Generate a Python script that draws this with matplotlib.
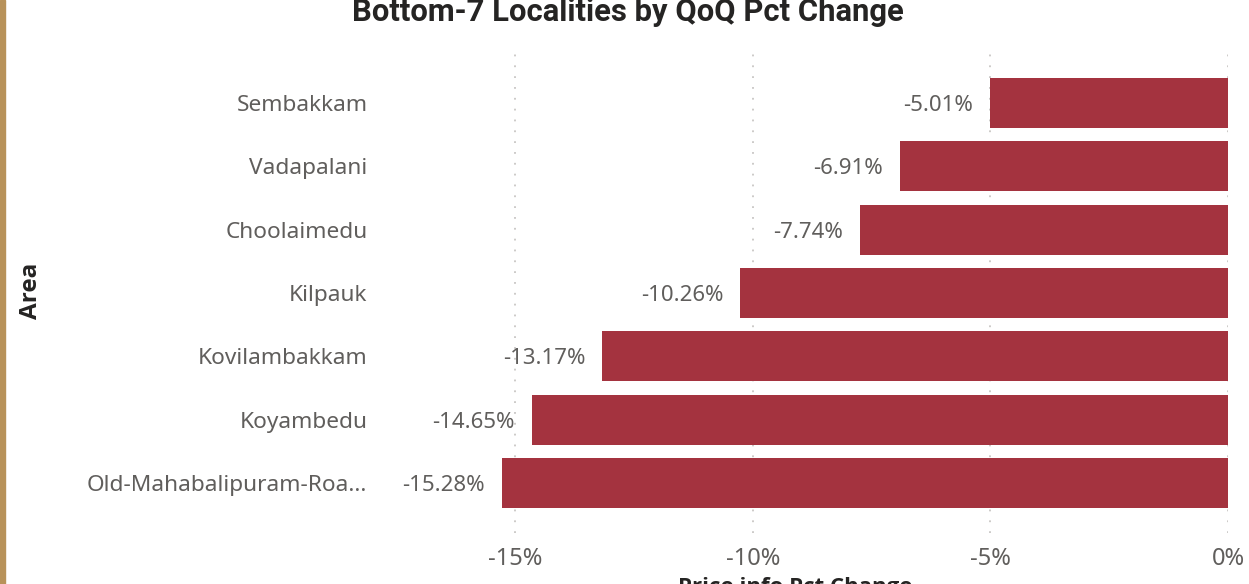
import matplotlib.pyplot as plt
from matplotlib.ticker import FuncFormatter
from matplotlib.patches import Rectangle

# data (QoQ pct change, bottom 7)
areas = ["Sembakkam", "Vadapalani", "Choolaimedu", "Kilpauk",
         "Kovilambakkam", "Koyambedu", "Old-Mahabalipuram-Roa..."]
pct_change = [-5.01, -6.91, -7.74, -10.26, -13.17, -14.65, -15.28]
x_ticks = [-15, -10, -5, 0]

bar_color = "#a4333f"
grey = "#605e5c"
W, H = 1249, 584

plt.rcParams['font.family'] = ['Noto Sans', 'DejaVu Sans']

fig = plt.figure(figsize=(W / 100, H / 100), dpi=100)
# axes box in pixels: x 380..1228, y 53..533
ax = fig.add_axes([380 / W, (H - 533) / H, (1228 - 380) / W, 480 / H])

ypos = list(range(len(areas)))
ax.barh(ypos, pct_change, height=0.79, color=bar_color, zorder=2)

px_per_pct = 47.53
ax.set_xlim(-(1228 - 380) / px_per_pct, 0)
ax.set_ylim(len(areas) - 1 + 0.79, -0.79)

for y, v in zip(ypos, pct_change):
    ax.annotate(f"{v:.2f}%", xy=(v, y), xytext=(-12, 0), textcoords="offset points",
                ha="right", va="center_baseline", fontsize=16, color=grey)

ax.set_yticks(ypos)
ax.set_yticklabels(areas, fontsize=16.3, color=grey)
ax.set_xticks(x_ticks)
ax.xaxis.set_major_formatter(FuncFormatter(lambda v, p: f"{v:.0f}%"))
ax.tick_params(axis="x", labelsize=17, labelcolor=grey, length=0, pad=10)
ax.tick_params(axis="y", length=0, pad=9)

ax.grid(axis="x", color="#c8c6c4", linestyle=(0, (1, 5)), linewidth=1.3, zorder=0)
for s in ax.spines.values():
    s.set_visible(False)

fig.text(31 / W, 293 / H, "Area", rotation=90, ha="center", va="center",
         fontsize=17.5, fontweight="bold", color="#252423",
         family=['Open Sans', 'DejaVu Sans'])
fig.text(678 / W, 1 - 577 / H, "Price info Pct Change", ha="left", va="top",
         fontsize=16, fontweight="bold", color="#252423",
         family=['Open Sans', 'DejaVu Sans'])
fig.text(628 / W, 1 - 21 / H, "Bottom-7 Localities by QoQ Pct Change", ha="center", va="baseline",
         fontsize=22.3, fontweight="bold", color="#252423",
         family=['DejaVu Sans Condensed', 'Roboto', 'DejaVu Sans'])

# gold frame edge on the left
fig.add_artist(Rectangle((0, 0), 5 / W, 1, transform=fig.transFigure,
                         color="#b8925a", zorder=5))

fig.savefig("out.png", dpi=100)
